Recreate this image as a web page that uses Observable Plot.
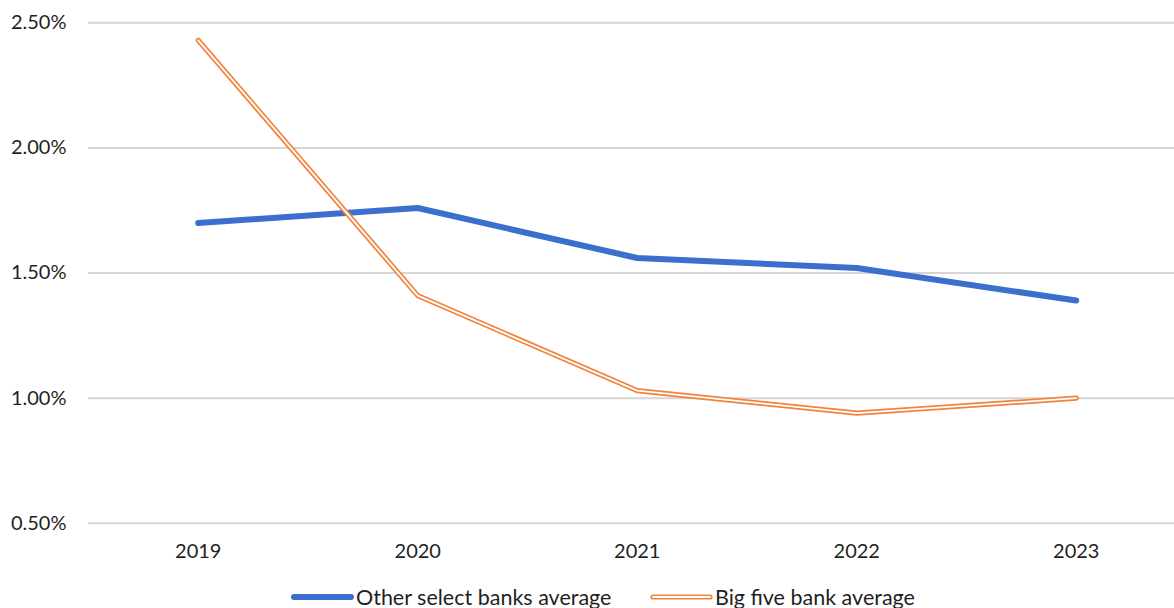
<!DOCTYPE html>
<html>
<head>
<meta charset="utf-8">
<script src="https://cdn.jsdelivr.net/npm/d3@7"></script>
<script src="https://cdn.jsdelivr.net/npm/@observablehq/plot@0.6"></script>
<style>
  html, body { margin: 0; padding: 0; background: #fff; overflow: hidden; }
  #chart svg { display: block; }
  .legend {
    position: relative;
    height: 30px;
    font-family: Lato, "Open Sans", sans-serif;
    font-size: 21.5px;
    color: #1f1f1f;
  }
  .legend .item { position: absolute; top: 6px; display: flex; align-items: center; white-space: nowrap; }
  .legend svg { display: block; margin-right: 2px; }
</style>
</head>
<body>
<div id="chart"></div>
<div class="legend" id="legend"></div>
<script>
// Yearly averages, in percent
const years = [2019, 2020, 2021, 2022, 2023];
const otherBanks = [1.70, 1.76, 1.56, 1.52, 1.39];
const bigFive = [2.43, 1.41, 1.03, 0.94, 1.00];
const yTicks = [0.5, 1.0, 1.5, 2.0, 2.5];
const seriesNames = ["Other select banks average", "Big five bank average"];

const blue = "#3a6fcd";
const orange = "#f0843e";

const rows = (vals) => years.map((year, i) => ({year, value: vals[i]}));
const other = rows(otherBanks);
const big = rows(bigFive);

const chart = Plot.plot({
  width: 1174,
  height: 578,
  marginLeft: 88,
  marginRight: 0,
  marginTop: 22,
  marginBottom: 55,
  style: {fontFamily: "Lato, 'Open Sans', sans-serif", fontSize: "20px", color: "#1f1f1f", background: "#fff"},
  x: {type: "linear", domain: [2018.5, 2023.5], range: [88, 1185.5]},
  y: {domain: [0.5, 2.5], range: [522.8, 22.3]},
  marks: [
    Plot.ruleY(yTicks, {stroke: "#d6d6d6", strokeWidth: 2}),
    Plot.axisY({ticks: yTicks, tickSize: 0, tickPadding: 22, tickFormat: d => d.toFixed(2) + "%", label: null, fontSize: 20}),
    Plot.axisX({ticks: years, tickSize: 0, tickPadding: 20, tickFormat: d => String(d), label: null, fontSize: 20}),
    Plot.line(other, {x: "year", y: "value", stroke: blue, strokeWidth: 6, strokeLinecap: "round", strokeLinejoin: "round"}),
    Plot.line(big, {x: "year", y: "value", stroke: orange, strokeWidth: 5.2, strokeLinecap: "round", strokeLinejoin: "round"}),
    Plot.line(big, {x: "year", y: "value", stroke: "#fff", strokeWidth: 1.8, strokeLinecap: "round", strokeLinejoin: "round"})
  ]
});
document.getElementById("chart").appendChild(chart);

// Legend with line swatches below the plot
const legend = d3.select("#legend");
const items = [
  {name: seriesNames[0], left: 291, draw: g => g.append("line").attr("x1", 3).attr("x2", 60).attr("y1", 7).attr("y2", 7).attr("stroke", blue).attr("stroke-width", 6).attr("stroke-linecap", "round")},
  {name: seriesNames[1], left: 650, draw: g => {
    g.append("line").attr("x1", 3).attr("x2", 60).attr("y1", 7).attr("y2", 7).attr("stroke", orange).attr("stroke-width", 5.2).attr("stroke-linecap", "round");
    g.append("line").attr("x1", 3).attr("x2", 60).attr("y1", 7).attr("y2", 7).attr("stroke", "#fff").attr("stroke-width", 1.8).attr("stroke-linecap", "round");
  }}
];
for (const it of items) {
  const div = legend.append("div").attr("class", "item").style("left", it.left + "px");
  const sw = div.append("svg").attr("width", 63).attr("height", 14);
  it.draw(sw);
  div.append("span").text(it.name);
}
</script>
</body>
</html>
